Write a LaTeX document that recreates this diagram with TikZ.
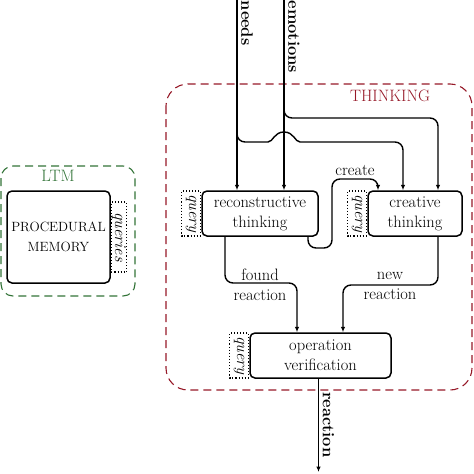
\documentclass[tikz,border=0pt]{standalone}
\usetikzlibrary{arrows.meta}
\definecolor{thinkred}{RGB}{150,25,40}
\definecolor{ltmgreen}{RGB}{50,115,55}
\begin{document}
\begin{tikzpicture}[x=1pt,y=-1pt,
  font=\fontsize{16.5}{19.8}\selectfont,
  box/.style={draw, line width=1.5pt, rounded corners=5pt, align=center, inner sep=0pt},
  qbox/.style={draw, dotted, line width=1.1pt, rotate=-90, font=\fontsize{16.5}{19.8}\selectfont\itshape, inner sep=0pt, minimum height=19pt},
  conn/.style={line width=1.4pt, rounded corners=8pt},
  arr/.style={conn, -{Latex[length=5.5pt,width=4.5pt]}},
  vlabel/.style={rotate=-90, anchor=south west, font=\fontsize{16.5}{19.8}\selectfont\bfseries, inner sep=2pt},
  region/.style={dash pattern=on 8pt off 5pt, line width=1.1pt}
]
\useasboundingbox (0,0) rectangle (474,474);

% regions
\draw[region, ltmgreen, rounded corners=12pt] (1,166) rectangle (135,296);
\node[text=ltmgreen] (ltml) at (58,176) {LTM};
\draw[region, thinkred, rounded corners=22pt] (166,84) rectangle (472,390);
\node[text=thinkred] (thl) at (390,95.5) {THINKING};

% boxes
\node[box, minimum width=103pt, minimum height=92pt, font=\fontsize{13.4}{19.8}\selectfont] (proc) at (58.5,237) {PROCEDURAL\\MEMORY};
\node[qbox, minimum width=70pt, minimum height=15pt, anchor=south] (queries) at (proc.east) {queries};

\node[box, minimum width=116pt, minimum height=45pt] (recon) at (260,213.5) {reconstructive\\thinking};
\node[qbox, minimum width=45pt, anchor=north] (rq) at (recon.west) {query};

\node[box, minimum width=94pt, minimum height=45pt] (creat) at (415,213.5) {creative\\thinking};
\node[qbox, minimum width=45pt, anchor=north] (cq) at (creat.west) {query};

\node[box, minimum width=141pt, minimum height=45pt] (opver) at (320.5,355.5) {operation\\verification};
\node[qbox, minimum width=45pt, anchor=north] (oq) at (opver.west) {query};

% inputs
\coordinate (needsTop) at (237,-2);
\coordinate (emoTop) at (284,-2);
\draw[arr] (needsTop) -- (needsTop |- recon.north);
\draw[arr] (emoTop) -- (emoTop |- recon.north);
\node[vlabel] (needsl) at (239,-1.5) {needs};
\node[vlabel] (emol) at (286,-1.5) {emotions};

% needs branch with jump over emotions
\coordinate (nb0) at (237,120);
\coordinate (nb1) at (268,142);
\coordinate (nb2) at (300,142);
\draw[conn] (nb0) -- (237,142) -- (nb1);
\draw[line width=1.4pt] (nb1) .. controls (273,142) and (274,132) .. (284,132)
   .. controls (294,132) and (295,142) .. (nb2);
\draw[arr] (nb2) -- (403,142) -- (403,0 |- creat.north);

% emotions branch
\coordinate (eb0) at (284,100);
\draw[arr] (eb0) -- (284,118) -- (438,118) -- (438,0 |- creat.north);

% create
\draw[arr] (308,0 |- recon.south) -- (308,248) -- (332,248) -- (332,179) -- (378,179) -- (378,0 |- creat.north);
\node (createl) at (355,170) {create};

% found reaction
\draw[arr] (225,0 |- recon.south) -- (225,283) -- (297,283) -- (297,0 |- opver.north);
\node[align=center] (foundl) at (260,285) {found\\reaction};

% new reaction
\draw[arr] (438,0 |- creat.south) -- (438,285) -- (343,285) -- (343,0 |- opver.north);
\node[align=center] (newl) at (390,285.7) {new\\reaction};

% output
\coordinate (out) at (318.5,472);
\draw[arr] (318.5,0 |- opver.south) -- (out);
\node[vlabel] (reacl) at (320.5,390) {reaction};
\end{tikzpicture}
\end{document}
